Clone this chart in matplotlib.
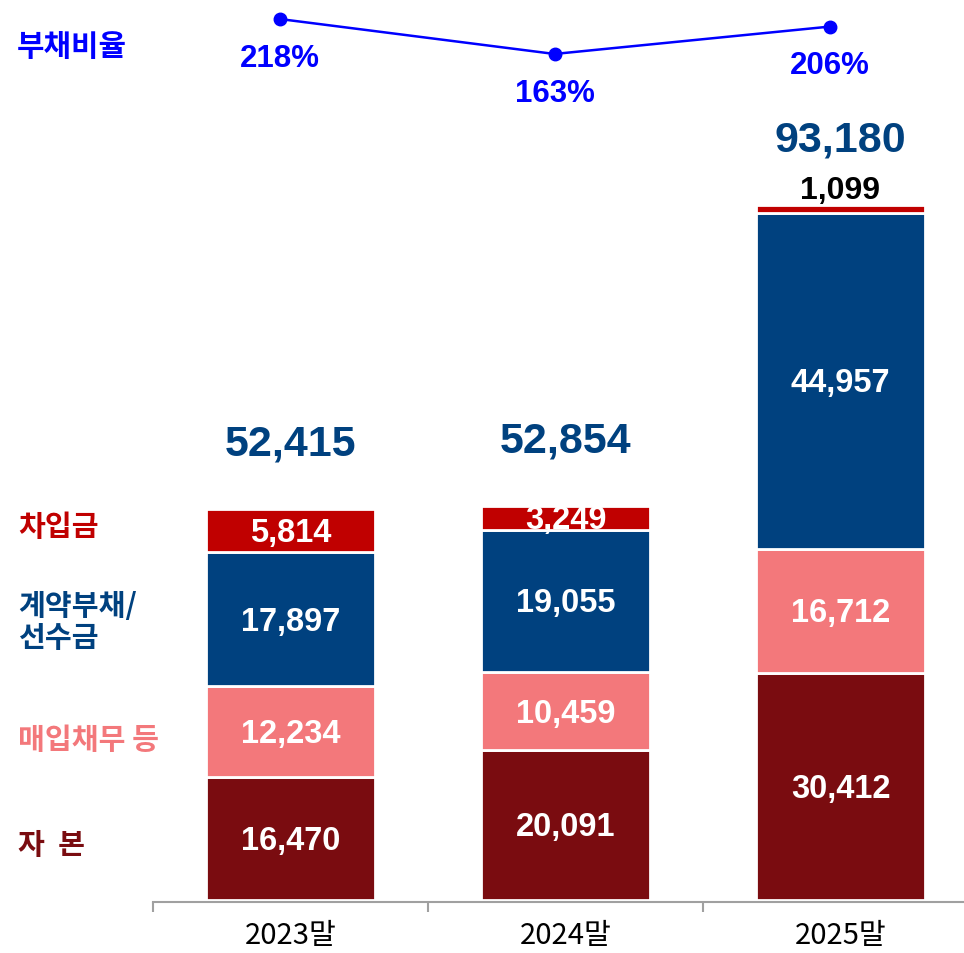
import matplotlib.pyplot as plt
import numpy as np

years = ['2023말', '2024말', '2025말']
equity = [16470, 20091, 30412]        # 자 본
payables = [12234, 10459, 16712]      # 매입채무 등
contract = [17897, 19055, 44957]      # 계약부채/선수금
borrowings = [5814, 3249, 1099]       # 차입금
totals = [52415, 52854, 93180]
debt_ratio = [218, 163, 206]          # 부채비율 (%)

c_equity = '#7A0C10'
c_pay = '#F3787B'
c_con = '#00417F'
c_bor = '#C00000'
c_line = '#0000FF'

num_font = ['Liberation Sans', 'DejaVu Sans']
kr_font = ['Noto Sans CJK KR', 'DejaVu Sans']

fig = plt.figure(figsize=(9.64, 9.54), dpi=100)
W, H = 964, 954
# main axes: category boundary -0.5 at x=153px, 275px per category
ax = fig.add_axes([153 / W, (H - 903) / H, 825 / W, 903 / H])
x = np.arange(len(years))
width = 0.615

# stack the bars
bottom = np.zeros(len(years))
segments = [(equity, c_equity), (payables, c_pay), (contract, c_con), (borrowings, c_bor)]
for vals, col in segments:
    bars = ax.bar(x, vals, width=width, bottom=bottom, color=col, edgecolor='white', linewidth=2, zorder=2)
    for i, v in enumerate(vals):
        if v < 2000:
            # too thin, put label above the bar
            ax.annotate(f'{v:,}', (x[i], bottom[i] + v), xytext=(0, 11), textcoords='offset points',
                        ha='center', va='center', fontsize=23, fontweight='bold', color='black', family=num_font)
        else:
            ax.text(x[i], bottom[i] + v / 2 - 250, f'{v:,}', ha='center', va='center', fontsize=23.5,
                    fontweight='bold', color='white', family=num_font, zorder=3)
    bottom += np.array(vals)

for i, t in enumerate(totals):
    ax.annotate(f'{t:,}', (x[i], t), xytext=(0, 47), textcoords='offset points', ha='center', va='center',
                fontsize=31, fontweight='bold', color=c_con, family=num_font)

px_per_unit = 695 / 93180
ax.set_ylim(-2 / px_per_unit, 901 / px_per_unit)
ax.set_xlim(-0.5, 2.5)

for s in ['top', 'right', 'left']:
    ax.spines[s].set_visible(False)
ax.spines['bottom'].set_color('#A0A0A0')
ax.spines['bottom'].set_linewidth(1.5)
ax.set_yticks([])
ax.set_xticks(x)
ax.set_xticklabels(years, fontsize=21, family=kr_font, fontweight='medium')
ax.tick_params(axis='x', which='major', length=0, pad=13)
ax.set_xticks([-0.5, 0.5, 1.5, 2.5], minor=True)
ax.tick_params(axis='x', which='minor', length=7, width=1.5, color='#A0A0A0', direction='out')

# debt ratio line on a twin axis
ax2 = ax.twinx()
ax2.set_ylim(-1170, 249.4)
ax2.plot(x - 0.04, debt_ratio, color=c_line, linewidth=1.8, marker='o', markersize=9, zorder=4)
for i, r in enumerate(debt_ratio):
    ax2.annotate(f'{r}%', (x[i] - 0.04, r), xytext=(0, -28), textcoords='offset points', ha='center',
                 va='center', fontsize=22.5, fontweight='bold', color=c_line, family=num_font)
ax2.axis('off')

# left side legend labels
fig.text(17 / W, 1 - 47 / H, '부채비율', fontsize=21.5, fontweight='bold', color=c_line, family=kr_font, va='center')
fig.text(18 / W, 1 - 527 / H, '차입금', fontsize=21, fontweight='bold', color=c_bor, family=kr_font, va='center')
fig.text(18 / W, 1 - 622 / H, '계약부채/\n선수금', fontsize=21, fontweight='bold', color=c_con, family=kr_font,
         va='center', linespacing=1.1)
fig.text(18 / W, 1 - 740 / H, '매입채무 등', fontsize=21, fontweight='bold', color=c_pay, family=kr_font, va='center')
fig.text(18 / W, 1 - 845 / H, '자  본', fontsize=21, fontweight='bold', color=c_equity, family=kr_font, va='center')

plt.savefig('out.png', dpi=100)
